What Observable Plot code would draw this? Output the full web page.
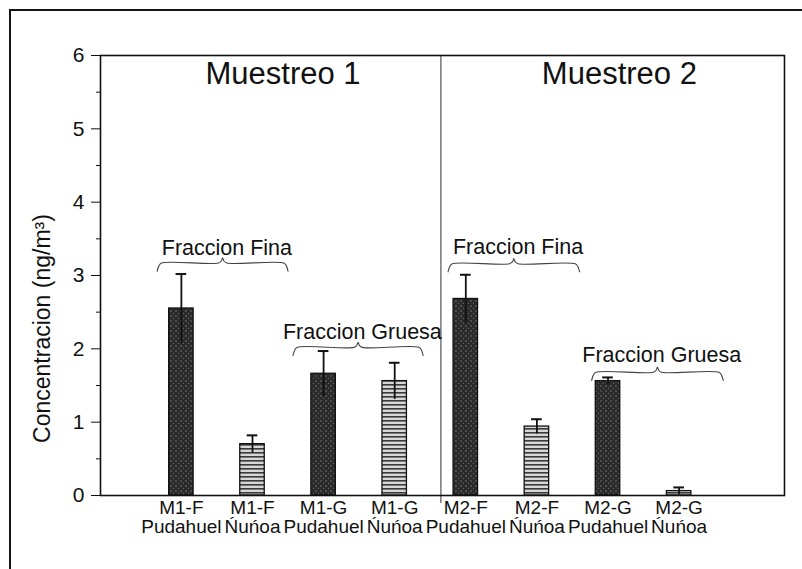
<!DOCTYPE html>
<html>
<head>
<meta charset="utf-8">
<script src="https://cdn.jsdelivr.net/npm/d3@7"></script>
<script src="https://cdn.jsdelivr.net/npm/@observablehq/plot@0.6"></script>
<style>
  html, body { margin: 0; padding: 0; background: #fff; }
  #wrap { position: relative; width: 802px; height: 569px; overflow: hidden; background: #fff; }
  #border { position: absolute; left: 9px; top: 9px; width: 900px; height: 700px;
            border-left: 2.5px solid #151515; border-top: 2.5px solid #151515; pointer-events: none; }
</style>
</head>
<body>
<div id="wrap"><div id="border"></div></div>
<script>
// ---- data ----
const positions = [1, 2, 3, 4, 5, 6, 7, 8];
const codes = ["M1-F", "M1-F", "M1-G", "M1-G", "M2-F", "M2-F", "M2-G", "M2-G"];
const sites = ["Pudahuel", "Ńuńoa", "Pudahuel", "Ńuńoa", "Pudahuel", "Ńuńoa", "Pudahuel", "Ńuńoa"];
const values = [2.55, 0.70, 1.66, 1.56, 2.68, 0.94, 1.56, 0.06];
const errors = [0.47, 0.12, 0.31, 0.25, 0.33, 0.10, 0.05, 0.05];

const yTicks = [0, 1, 2, 3, 4, 5, 6];
const yMinorTicks = [0.5, 1.5, 2.5, 3.5, 4.5, 5.5];
const yLabel = "Concentracion (ng/m³)";

const campaignLabels = ["Muestreo 1", "Muestreo 2"];
const campaignX = [2.43, 7.16];
const campaignY = [5.74, 5.74];
const dividerX = 4.65;

const bracketLabels = ["Fraccion Fina", "Fraccion Gruesa", "Fraccion Fina", "Fraccion Gruesa"];
const bracketStart = [0.66, 2.57, 4.75, 6.77];
const bracketEnd = [2.50, 4.40, 6.60, 8.62];
const bracketY = [3.17, 2.02, 3.16, 1.68];
const bracketTextY = [3.38, 2.23, 3.39, 1.92];

// ---- tables ----
const bars = positions.map((p, i) => ({
  pos: p, code: codes[i], site: sites[i], v: values[i], e: errors[i],
  pattern: sites[i] === "Pudahuel" ? "url(#dots)" : "url(#stripes)"
}));
const half = 0.172, cap = 0.075;

const brackets = bracketStart.map((s, i) => ({s, e: bracketEnd[i], y: bracketY[i], ty: bracketTextY[i], label: bracketLabels[i]}));
const bracketPts = [];
brackets.forEach((b, k) => {
  const m = (b.s + b.e) / 2, drop = 0.11, peak = 0.07, r = 0.06;
  [[b.s, b.y - drop], [b.s + r * 0.4, b.y - drop * 0.35], [b.s + r, b.y],
   [m - r, b.y], [m - r * 0.3, b.y + peak * 0.4], [m, b.y + peak], [m + r * 0.3, b.y + peak * 0.4], [m + r, b.y],
   [b.e - r, b.y], [b.e - r * 0.4, b.y - drop * 0.35], [b.e, b.y - drop]]
    .forEach(([x, y]) => bracketPts.push({k, x, y}));
});
const campaigns = campaignLabels.map((t, i) => ({t, x: campaignX[i], y: campaignY[i]}));

const font = "Arial, 'Liberation Sans', sans-serif";

const chart = Plot.plot({
  width: 802,
  height: 569,
  marginLeft: 100,
  marginRight: 18,
  marginTop: 55,
  marginBottom: 74,
  style: {fontFamily: font, color: "#111", background: "transparent", overflow: "visible"},
  x: {domain: [-0.1375, 9.482], axis: null},
  y: {domain: [0, 6], axis: null},
  marks: [
    Plot.rect(bars, {x1: d => d.pos - half, x2: d => d.pos + half, y1: 0, y2: "v",
      fill: d => d.pattern, stroke: "#111", strokeWidth: 1.3}),
    Plot.ruleX(bars, {x: "pos", y1: d => d.v - d.e, y2: d => d.v + d.e, stroke: "#111", strokeWidth: 1.8}),
    Plot.ruleY(bars, {y: d => d.v + d.e, x1: d => d.pos - cap, x2: d => d.pos + cap, stroke: "#111", strokeWidth: 2}),
    Plot.ruleX([dividerX], {y1: -0.11, y2: 6, stroke: "#333", strokeWidth: 1}),
    Plot.line(bracketPts, {x: "x", y: "y", z: "k", curve: "catmull-rom", stroke: "#444", strokeWidth: 1.1}),
    Plot.text(brackets, {x: d => (d.s + d.e) / 2 + 0.06, y: "ty", text: "label", fontSize: 21.5, fill: "#111"}),
    Plot.text(campaigns, {x: "x", y: "y", text: "t", fontSize: 31, fill: "#111"}),
    Plot.frame({stroke: "#111", strokeWidth: 1.6}),
    Plot.axisY({ticks: yTicks, tickSize: 9, tickPadding: 7, fontSize: 21,
      tickFormat: d3.format("d"), label: null}),
    Plot.axisY({ticks: yMinorTicks, tickSize: 4, tickFormat: () => "", label: null}),
    Plot.text([yLabel], {frameAnchor: "left", textAnchor: "middle", text: d => d, rotate: -90, dx: -58, dy: 53,
      fontSize: 23, fill: "#111"}),
    Plot.axisX({ticks: positions, tickSize: 0, tickPadding: 5, fontSize: 19,
      tickFormat: p => codes[p - 1] + "\n" + sites[p - 1], label: null})
  ]
});

d3.select(chart).insert("defs", ":first-child").html(`
  <pattern id="dots" patternUnits="userSpaceOnUse" width="5" height="5">
    <rect width="5" height="5" fill="#2a2a2a"></rect>
    <circle cx="1" cy="1" r="0.7" fill="#8a8a8a"></circle>
    <circle cx="3.5" cy="3.3" r="0.6" fill="#6e6e6e"></circle>
  </pattern>
  <pattern id="stripes" patternUnits="userSpaceOnUse" width="6" height="4">
    <rect width="6" height="4" fill="#d6d6d6"></rect>
    <rect y="0" width="6" height="1.6" fill="#3a3a3a"></rect>
  </pattern>`);

document.getElementById("wrap").appendChild(chart);
</script>
</body>
</html>
